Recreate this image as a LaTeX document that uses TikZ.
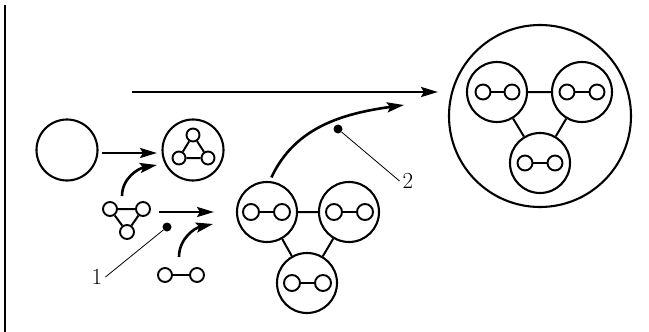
\documentclass[tikz,border=0pt]{standalone}
\usetikzlibrary{arrows.meta}
\begin{document}
\begin{tikzpicture}[x=1pt,y=-1pt,
  bigc/.style={circle,draw,line width=2.1pt,minimum size=60pt,inner sep=0pt},
  hugec/.style={circle,draw,line width=2.1pt,minimum size=182pt,inner sep=0pt},
  smc/.style={circle,draw,line width=1.9pt,minimum size=15pt,inner sep=0pt},
  edg/.style={line width=2pt},
  arr/.style={line width=2.6pt,-{Stealth[length=17pt,width=10pt,inset=3pt]}},
  dotn/.style={circle,fill,inner sep=0pt,minimum size=9pt},
  lead/.style={line width=0.8pt},
  lab/.style={inner sep=3pt,font=\fontsize{23}{23}\selectfont}]
\useasboundingbox (0,0) rectangle (649,332);
% left vertical bar
\coordinate (v1) at (5,5);
\coordinate (v2) at (5,332);
\draw[line width=2.6pt] (v1) -- (v2);
% empty circle and triangle circle
\node[bigc,minimum size=61pt] (e) at (67,150) {};
\node[bigc,minimum size=61pt] (t) at (193,150) {};
\node[smc,minimum size=13pt] (t1) at (193,135) {};
\node[smc,minimum size=13pt] (t2) at (179,158) {};
\node[smc,minimum size=13pt] (t3) at (208,158) {};
\draw[edg] (t1) -- (t2) (t2) -- (t3) (t3) -- (t1);
\coordinate (a1s) at (102,153);
\coordinate (a1e) at (157,153);
\draw[arr] (a1s) -- (a1e);
% free triangle
\node[smc,minimum size=14pt] (g1) at (110,209) {};
\node[smc,minimum size=14pt] (g2) at (143,209) {};
\node[smc,minimum size=14pt] (g3) at (127,232) {};
\draw[edg] (g1) -- (g2) (g2) -- (g3) (g3) -- (g1);
\coordinate (c1s) at (122,196);
\coordinate (c1e) at (157,165);
\draw[arr] (c1s) to[out=90,in=190] (c1e);
% dumbbell
\node[smc,minimum size=14pt] (d1) at (165,275) {};
\node[smc,minimum size=14pt] (d2) at (197,275) {};
\draw[edg] (d1) -- (d2);
\coordinate (c2s) at (179,257);
\coordinate (c2e) at (213,224);
\draw[arr] (c2s) to[out=90,in=192] (c2e);
\coordinate (a2s) at (159,212);
\coordinate (a2e) at (214,212);
\draw[arr] (a2s) -- (a2e);
\node[dotn] (dot1) at (167,227) {};
\node[lab] (l1) at (97,277) {1};
\draw[lead] (dot1) -- (l1.east);
% middle cluster
\node[bigc] (A) at (267,212) {};
\node[bigc] (B) at (349,212) {};
\node[bigc] (C) at (307,283) {};
\draw[edg] (A) -- (B) (B) -- (C) (C) -- (A);
\node[smc,minimum size=16pt] (ma1) at (251,212) {};
\node[smc,minimum size=16pt] (ma2) at (282,212) {};
\node[smc,minimum size=16pt] (mb1) at (334,212) {};
\node[smc,minimum size=16pt] (mb2) at (365,212) {};
\node[smc,minimum size=16pt] (mc1) at (292,283) {};
\node[smc,minimum size=16pt] (mc2) at (323,283) {};
\draw[edg] (ma1) -- (ma2) (mb1) -- (mb2) (mc1) -- (mc2);
% arrow 2
\coordinate (c3e) at (404,105);
\draw[arr,shorten <=4pt] (A.85) to[out=65,in=188] (c3e);
\node[dotn] (dot2) at (338,129) {};
\node[lab] (l2) at (408,181) {2};
\draw[lead] (dot2) -- (l2.west);
% top arrow
\coordinate (ts) at (132,92);
\coordinate (te) at (438,92);
\draw[arr] (ts) -- (te);
% big cluster
\node[hugec] (H) at (540,116) {};
\node[bigc] (P) at (497,92) {};
\node[bigc] (Q) at (582,92) {};
\node[bigc] (R) at (540,163) {};
\draw[edg] (P) -- (Q) (Q) -- (R) (R) -- (P);
\node[smc] (p1) at (483,92) {};
\node[smc] (p2) at (512,92) {};
\node[smc] (q1) at (567,92) {};
\node[smc] (q2) at (597,92) {};
\node[smc] (r1) at (525,163) {};
\node[smc] (r2) at (555,163) {};
\draw[edg] (p1) -- (p2) (q1) -- (q2) (r1) -- (r2);
\end{tikzpicture}
\end{document}
